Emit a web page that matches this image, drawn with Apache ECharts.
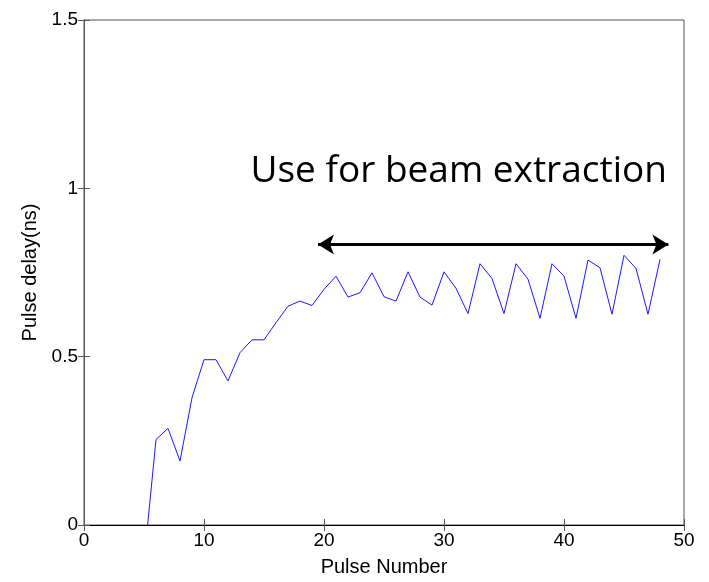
<!DOCTYPE html>
<html>
<head>
<meta charset="utf-8">
<script src="https://cdn.jsdelivr.net/npm/echarts@6/dist/echarts.min.js"></script>
<style>
  html, body { margin: 0; padding: 0; background: #fff; }
  #chart { width: 709px; height: 582px; }
</style>
</head>
<body>
<div id="chart"></div>
<script>
// pulse number vs measured delay
var pulseNumbers = [5, 6, 7, 8, 9, 10, 11, 12, 13, 14, 15, 16, 17, 18, 19, 20, 21, 22, 23, 24, 25, 26,
  27, 28, 29, 30, 31, 32, 33, 34, 35, 36, 37, 38, 39, 40, 41, 42, 43, 44, 45, 46, 47, 48]
var pulseDelay = [-0.11, 0.254, 0.287, 0.19, 0.378, 0.491, 0.491, 0.428, 0.512, 0.55, 0.55, 0.601, 0.65,
  0.665, 0.652, 0.70, 0.739, 0.677, 0.69, 0.749, 0.678, 0.665, 0.752, 0.677, 0.653, 0.752, 0.703,
  0.628, 0.776, 0.732, 0.628, 0.776, 0.73, 0.614, 0.776, 0.739, 0.614, 0.787, 0.764, 0.626, 0.801,
  0.762, 0.626, 0.789]
var xTicks = [0, 10, 20, 30, 40, 50]
var yTicks = [0, 0.5, 1, 1.5]
// extraction window arrow
var arrowStart = [19.5, 0.833]
var arrowEnd = [48.7, 0.833]
var noteText = 'Use for beam extraction'

var chart = echarts.init(document.getElementById('chart'))

var tickFont = {
  fontFamily: 'Liberation Sans, Arial, sans-serif',
  fontSize: 19,
  color: '#000'
}
var nameFont = {
  fontFamily: 'Liberation Sans, Arial, sans-serif',
  fontSize: 20,
  color: '#000'
}
var axisLine = { show: true, lineStyle: { color: '#555', width: 1 } }
var axisTick = { show: true, inside: true, length: 6, lineStyle: { color: '#555', width: 1 } }

var option = {
  animation: false,
  grid: {
    left: 84,
    right: 25,
    top: 20,
    bottom: 56,
    show: true,
    borderColor: '#555',
    borderWidth: 1
  },
  xAxis: [{
    type: 'value',
    min: xTicks[0],
    max: xTicks[xTicks.length - 1],
    interval: 10,
    name: 'Pulse Number',
    nameLocation: 'middle',
    nameGap: 32,
    nameTextStyle: nameFont,
    axisLine: axisLine,
    axisTick: axisTick,
    axisLabel: Object.assign({ margin: 6 }, tickFont),
    splitLine: { show: false }
  }, {
    type: 'value',
    position: 'top',
    min: xTicks[0],
    max: xTicks[xTicks.length - 1],
    interval: 10,
    axisLine: { show: true, lineStyle: { color: '#000', width: 1 } },
    axisTick: axisTick,
    axisLabel: { show: false },
    splitLine: { show: false }
  }],
  yAxis: [{
    type: 'value',
    min: yTicks[0],
    max: yTicks[yTicks.length - 1],
    interval: 0.5,
    name: 'Pulse delay(ns)',
    nameLocation: 'middle',
    nameGap: 44,
    nameTextStyle: nameFont,
    axisLine: axisLine,
    axisTick: axisTick,
    axisLabel: Object.assign({ margin: 6 }, tickFont),
    splitLine: { show: false }
  }, {
    type: 'value',
    position: 'right',
    min: yTicks[0],
    max: yTicks[yTicks.length - 1],
    interval: 0.5,
    axisLine: axisLine,
    axisTick: axisTick,
    axisLabel: { show: false },
    splitLine: { show: false }
  }],
  graphic: [{
    type: 'text',
    right: 42,
    top: 153,
    style: {
      text: noteText,
      font: '37px "Open Sans", sans-serif',
      fill: '#000'
    }
  }],
  series: [{
    type: 'line',
    data: pulseNumbers.map(function (x, i) { return [x, pulseDelay[i]] }),
    symbol: 'none',
    clip: true,
    lineStyle: { color: '#1a1aff', width: 1 },
    markLine: {
      silent: true,
      symbol: ['arrow', 'arrow'],
      symbolSize: [15, 16],
      label: { show: false },
      lineStyle: { color: '#000', width: 3, type: 'solid' },
      data: [[{ coord: arrowStart }, { coord: arrowEnd }]]
    }
  }]
}
chart.setOption(option)
</script>
</body>
</html>
